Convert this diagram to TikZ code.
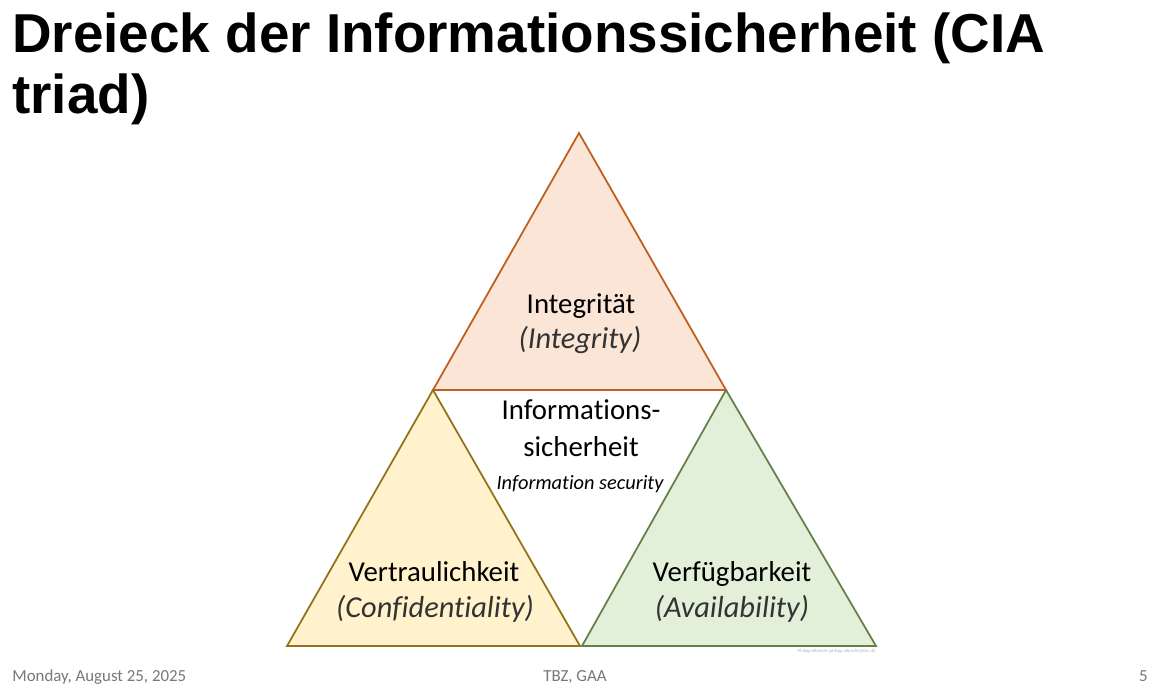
\documentclass[tikz,border=0pt]{standalone}
\usepackage{fontspec}
\setmainfont{Carlito}[Ligatures=NoCommon]
\newfontfamily\titlefont{Liberation Sans}
\usetikzlibrary{positioning}

\definecolor{intfill}{RGB}{251,229,214}
\definecolor{intline}{RGB}{190,95,30}
\definecolor{conffill}{RGB}{255,242,204}
\definecolor{confline}{RGB}{145,115,25}
\definecolor{availfill}{RGB}{226,240,217}
\definecolor{availline}{RGB}{100,128,72}
\definecolor{footgray}{RGB}{120,120,120}

\tikzset{
  side/.style={line width=1pt, line join=miter},
  mainlbl/.style={font=\fontsize{16.4}{19}\selectfont, inner sep=0pt, anchor=base},
  sublbl/.style={font=\fontsize{17.3}{20}\selectfont\itshape, text=black!80, inner sep=0pt, anchor=base},
  smalllbl/.style={font=\fontsize{11.6}{13}\selectfont\itshape, inner sep=0pt, anchor=base},
  titlelbl/.style={font=\titlefont\bfseries\fontsize{31.2}{34}\selectfont, inner sep=0pt, anchor=base west},
  footlbl/.style={font=\fontsize{9.6}{11}\selectfont, text=footgray, inner sep=0pt}
}

\begin{document}
\begin{tikzpicture}[x=0.02cm, y=-0.02cm]
	\useasboundingbox[fill=white] (0,0) rectangle (1150,696);

	% title
	\node[titlelbl] (title1) at (12,53) {Dreieck der Informationssicherheit (CIA};
	\node[titlelbl] (title2) at (12,113) {triad)};

	% corners of the three triangles
	\coordinate (itop) at (579,133);
	\coordinate (ileft) at (433,390);
	\coordinate (iright) at (726,390);
	\coordinate (cleft) at (287,646);
	\coordinate (cright) at (580,646);
	\coordinate (aleft) at (582,646);
	\coordinate (aright) at (876,646);

	\draw[side, fill=conffill, draw=confline] (ileft) -- (cright) -- (cleft) -- cycle;
	\draw[side, fill=availfill, draw=availline] (iright) -- (aright) -- (aleft) -- cycle;
	\draw[side, fill=intfill, draw=intline] (itop) -- (iright) -- (ileft) -- cycle;

	% labels
	\node[mainlbl] (integ) at (581,313) {Integrität};
	\node[sublbl] (integen) at (580,348) {(Integrity)};

	\node[mainlbl] (info1) at (581,419) {Informations-};
	\node[mainlbl] (info2) at (581,456) {sicherheit};
	\node[smalllbl] (infoen) at (580,489) {Information security};

	\node[mainlbl] (conf) at (434,581) {Vertraulichkeit};
	\node[sublbl] (confen) at (435,617) {(Confidentiality)};

	\node[mainlbl] (avail) at (732,581) {Verfügbarkeit};
	\node[sublbl] (availen) at (732,617) {(Availability)};

	\node[font=\fontsize{2.6}{3}\selectfont, text=black!30, inner sep=0pt, anchor=east] (credit) at (876,651) {Philipp Albrecht (philipp.albrecht@tbz.ch)};

	% footer
	\node[footlbl, anchor=base west] (date) at (12,681) {Monday, August 25, 2025};
	\node[footlbl, anchor=base] (org) at (575,681) {TBZ, GAA};
	\node[footlbl, anchor=base east] (page) at (1148,681) {5};
\end{tikzpicture}
\end{document}
